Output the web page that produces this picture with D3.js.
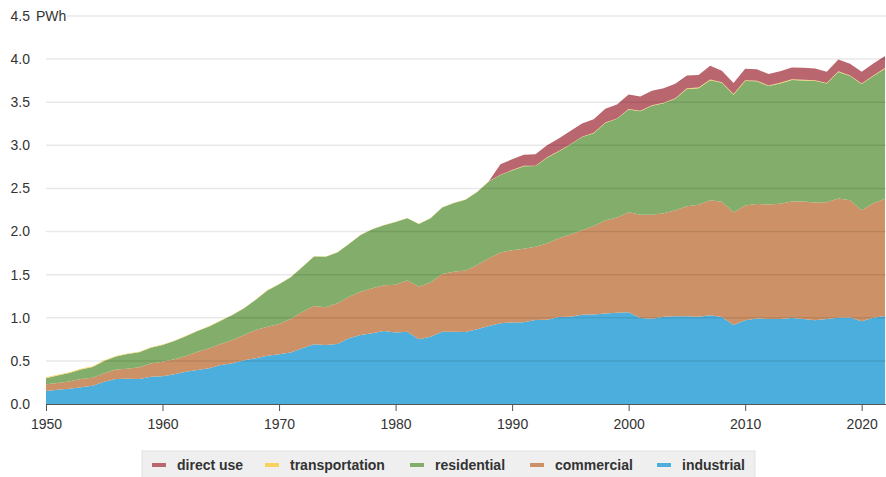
<!DOCTYPE html>
<html>
<head>
<meta charset="utf-8">
<script src="https://cdn.jsdelivr.net/npm/d3@7"></script>
<style>
body { margin: 0; background: #fff; }
svg { font-family: "Liberation Sans", Arial, sans-serif; display: block; }
.tick text { fill: #333; font-size: 14px; }
.legend text { font-weight: bold; font-size: 14px; fill: #333; }
</style>
</head>
<body>
<svg id="chart" width="886" height="477"></svg>
<script>

/// years 1950 .. 2022
var years = d3.range(1950, 2023);

/// electricity end use, PWh
var industrial = [
  0.151, 0.165, 0.178, 0.193, 0.213, 0.259, 0.290, 0.292, 0.290, 0.317,
  0.321, 0.345, 0.375, 0.394, 0.414, 0.452, 0.472, 0.507, 0.530, 0.560,
  0.576, 0.596, 0.646, 0.692, 0.684, 0.696, 0.762, 0.800, 0.820, 0.847,
  0.828, 0.839, 0.750, 0.780, 0.839, 0.839, 0.835, 0.866, 0.905, 0.936,
  0.946, 0.947, 0.973, 0.977, 1.008, 1.013, 1.034, 1.038, 1.051, 1.058,
  1.064, 0.997, 0.990, 1.012, 1.018, 1.019, 1.011, 1.028, 1.009, 0.917,
  0.971, 0.991, 0.986, 0.985, 0.998, 0.987, 0.970, 0.987, 1.000, 1.002,
  0.960, 1.000, 1.020
];
var commercial = [
  0.077, 0.080, 0.082, 0.097, 0.092, 0.097, 0.110, 0.118, 0.135, 0.153,
  0.169, 0.175, 0.182, 0.213, 0.232, 0.244, 0.270, 0.293, 0.328, 0.337,
  0.352, 0.390, 0.424, 0.445, 0.437, 0.472, 0.483, 0.503, 0.522, 0.530,
  0.556, 0.592, 0.611, 0.628, 0.669, 0.696, 0.712, 0.746, 0.785, 0.820,
  0.838, 0.855, 0.850, 0.885, 0.913, 0.953, 0.980, 1.027, 1.078, 1.104,
  1.159, 1.197, 1.205, 1.199, 1.230, 1.275, 1.300, 1.336, 1.336, 1.307,
  1.330, 1.328, 1.327, 1.337, 1.352, 1.361, 1.367, 1.352, 1.382, 1.361,
  1.287, 1.328, 1.360
];
var residential = [
  0.072, 0.085, 0.100, 0.110, 0.125, 0.144, 0.150, 0.170, 0.175, 0.183,
  0.194, 0.210, 0.230, 0.240, 0.254, 0.270, 0.290, 0.310, 0.350, 0.420,
  0.460, 0.484, 0.520, 0.573, 0.588, 0.588, 0.611, 0.657, 0.684, 0.696,
  0.726, 0.723, 0.727, 0.746, 0.772, 0.795, 0.823, 0.848, 0.890, 0.900,
  0.924, 0.955, 0.936, 0.995, 1.008, 1.043, 1.082, 1.076, 1.130, 1.145,
  1.192, 1.202, 1.265, 1.276, 1.292, 1.359, 1.352, 1.392, 1.380, 1.364,
  1.446, 1.423, 1.375, 1.395, 1.407, 1.404, 1.411, 1.378, 1.469, 1.440,
  1.464, 1.477, 1.509
];
var transportation = [
  0.010, 0.010, 0.009, 0.009, 0.008, 0.008, 0.007, 0.006, 0.005, 0.005,
  0.005, 0.004, 0.004, 0.004, 0.004, 0.004, 0.004, 0.004, 0.004, 0.004,
  0.003, 0.003, 0.003, 0.003, 0.003, 0.003, 0.003, 0.003, 0.003, 0.003,
  0.003, 0.003, 0.003, 0.003, 0.003, 0.003, 0.003, 0.003, 0.003, 0.004,
  0.005, 0.005, 0.005, 0.005, 0.005, 0.005, 0.005, 0.005, 0.005, 0.005,
  0.005, 0.006, 0.006, 0.007, 0.007, 0.008, 0.007, 0.008, 0.008, 0.008,
  0.008, 0.008, 0.007, 0.008, 0.008, 0.008, 0.007, 0.007, 0.008, 0.007,
  0.006, 0.006, 0.007
];
var directUse = [
  0, 0, 0, 0, 0, 0, 0, 0, 0, 0,
  0, 0, 0, 0, 0, 0, 0, 0, 0, 0,
  0, 0, 0, 0, 0, 0, 0, 0, 0, 0,
  0, 0, 0, 0, 0, 0, 0, 0, 0, 0.120,
  0.125, 0.128, 0.134, 0.139, 0.146, 0.151, 0.153, 0.156, 0.161, 0.163,
  0.171, 0.163, 0.166, 0.168, 0.168, 0.150, 0.147, 0.159, 0.132, 0.127,
  0.132, 0.133, 0.132, 0.134, 0.139, 0.141, 0.137, 0.128, 0.136, 0.135,
  0.137, 0.138, 0.140
];

/// stacking order, bottom to top
var keys = ["industrial", "commercial", "residential", "transportation", "direct use"];
var colors = ["#4baedc", "#cc9166", "#82ad6a", "#f7d35e", "#b9666f"];

/// legend order and tick labels
var legendKeys = ["direct use", "transportation", "residential", "commercial", "industrial"];
var yTicks = [0, 0.5, 1, 1.5, 2, 2.5, 3, 3.5, 4, 4.5];
var xTicks = [1950, 1960, 1970, 1980, 1990, 2000, 2010, 2020];

var table = years.map(function(yr, i) {
    return {
        year: yr,
        "industrial": industrial[i],
        "commercial": commercial[i],
        "residential": residential[i],
        "transportation": transportation[i],
        "direct use": directUse[i]
    };
});

var svg = d3.select("#chart");

var x = d3.scaleLinear().domain([1950, 2022]).range([46, 885]);
var y = d3.scaleLinear().domain([0, 4.5]).range([404, 16]);
var color = d3.scaleOrdinal().domain(keys).range(colors);

var series = d3.stack().keys(keys)(table);

var area = d3.area()
    .x(function(d) { return x(d.data.year); })
    .y0(function(d) { return y(d[0]); })
    .y1(function(d) { return y(d[1]); });

/// areas
svg.append("g")
  .selectAll("path")
    .data(series)
  .enter().append("path")
    .attr("fill", function(d) { return color(d.key); })
    .attr("d", area);

/// gridlines on top, faint
svg.append("g")
  .selectAll("line")
    .data(yTicks.filter(function(v) { return v > 0; }))
  .enter().append("line")
    .attr("x1", function(v) { return v === 4.5 ? 67 : 46; })
    .attr("x2", 886)
    .attr("y1", function(v) { return y(v); })
    .attr("y2", function(v) { return y(v); })
    .attr("stroke", "rgba(0,0,0,0.09)")
    .attr("stroke-width", 1.5);

/// y tick labels
var yAxis = svg.append("g").attr("class", "tick");
yAxis.selectAll("text")
    .data(yTicks)
  .enter().append("text")
    .attr("x", 30)
    .attr("y", function(v) { return y(v); })
    .attr("dy", "0.35em")
    .attr("text-anchor", "end")
    .text(d3.format(".1f"));

yAxis.append("text")
    .attr("x", 36)
    .attr("y", y(4.5))
    .attr("dy", "0.35em")
    .text("PWh");

/// x axis
var xAxis = d3.axisBottom(x)
    .tickValues(xTicks)
    .tickFormat(d3.format("d"))
    .tickSize(7)
    .tickPadding(8);

var xa = svg.append("g")
    .attr("transform", "translate(0," + y(0) + ")")
    .call(xAxis);
xa.select(".domain").attr("stroke", "#555").attr("d", "M46,0.5H886");
xa.selectAll(".tick line").attr("stroke", "#555");
xa.selectAll(".tick text").attr("fill", "#333").style("font-size", "14px")
    .style("font-family", "'Liberation Sans', Arial, sans-serif");

/// legend
var lg = svg.append("g").attr("class", "legend");
lg.append("rect")
    .attr("x", 142).attr("y", 451)
    .attr("width", 613).attr("height", 28)
    .attr("fill", "#efefef")
    .attr("stroke", "#e2e2e2");

var legendX = [152, 265, 410, 530, 657];
var items = lg.selectAll("g.item")
    .data(legendKeys)
  .enter().append("g")
    .attr("class", "item")
    .attr("transform", function(d, i) { return "translate(" + legendX[i] + ",465)"; });

items.append("line")
    .attr("x1", 0).attr("x2", 14)
    .attr("stroke", function(d) { return color(d); })
    .attr("stroke-width", 4);

items.append("text")
    .attr("x", 25)
    .attr("dy", "0.35em")
    .text(function(d) { return d; });

</script>
</body>
</html>
